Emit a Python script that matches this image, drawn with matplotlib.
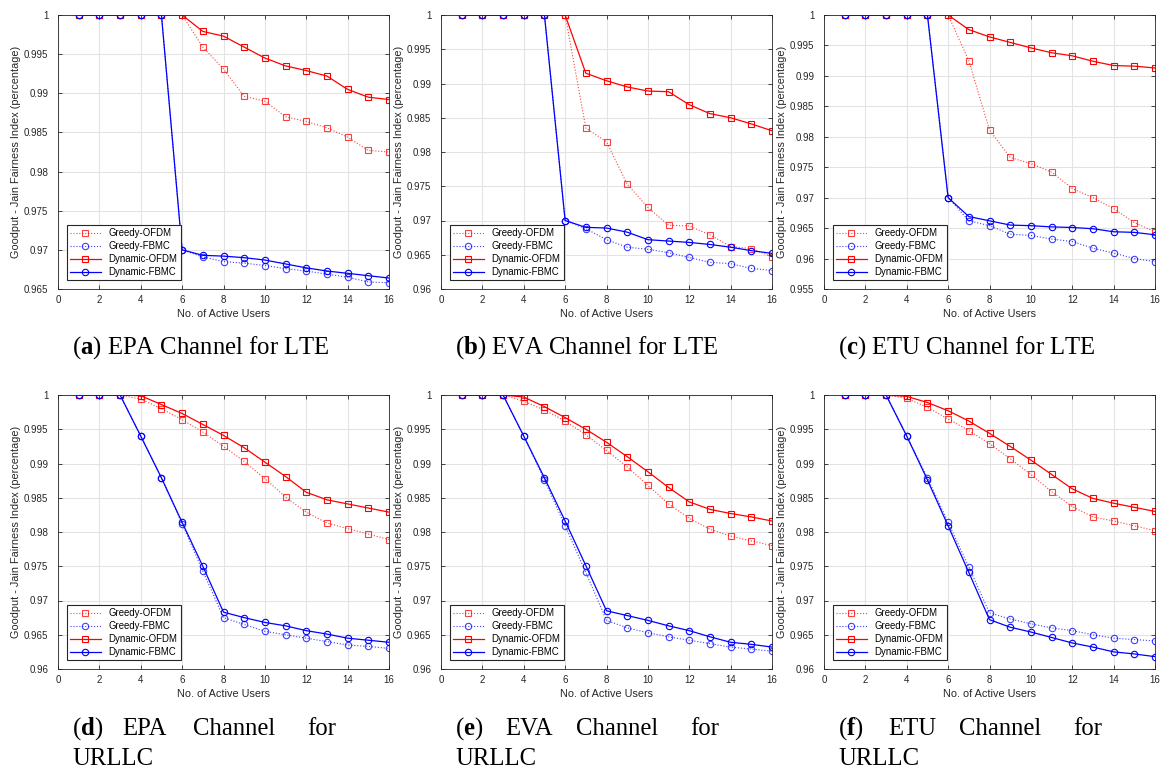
import matplotlib
matplotlib.use("Agg")
import matplotlib.pyplot as plt
from matplotlib.ticker import FormatStrFormatter, MultipleLocator

plt.rcParams['font.family'] = ['Liberation Sans', 'DejaVu Sans']
plt.rcParams['mathtext.fontset'] = 'custom'
plt.rcParams['mathtext.rm'] = 'Liberation Serif'
plt.rcParams['mathtext.bf'] = 'Liberation Serif:bold'

users = list(range(1, 17))
series_names = ["Greedy-OFDM", "Greedy-FBMC", "Dynamic-OFDM", "Dynamic-FBMC"]

# (a) EPA / LTE
epa_lte_greedy_ofdm = [1, 1, 1, 1, 1, 1, 0.9959, 0.9931, 0.9896, 0.9890, 0.9870, 0.9864, 0.9856, 0.9844, 0.9827, 0.9825]
epa_lte_greedy_fbmc = [1, 1, 1, 1, 1, 0.970, 0.9691, 0.9685, 0.9683, 0.9680, 0.9676, 0.9673, 0.9669, 0.9665, 0.9659, 0.9658]
epa_lte_dyn_ofdm = [1, 1, 1, 1, 1, 1, 0.9979, 0.9973, 0.9959, 0.9945, 0.9935, 0.9929, 0.9922, 0.9905, 0.9895, 0.9892]
epa_lte_dyn_fbmc = [1, 1, 1, 1, 1, 0.970, 0.9693, 0.9692, 0.9690, 0.9687, 0.9682, 0.9677, 0.9673, 0.9670, 0.9667, 0.9664]

# (b) EVA / LTE
eva_lte_greedy_ofdm = [1, 1, 1, 1, 1, 1, 0.9835, 0.9815, 0.9753, 0.9719, 0.9693, 0.9692, 0.9679, 0.9662, 0.9659, 0.9647]
eva_lte_greedy_fbmc = [1, 1, 1, 1, 1, 0.970, 0.9688, 0.9672, 0.9661, 0.9658, 0.9653, 0.9646, 0.9639, 0.9637, 0.9630, 0.9627]
eva_lte_dyn_ofdm = [1, 1, 1, 1, 1, 1, 0.9915, 0.9904, 0.9895, 0.9889, 0.9888, 0.9869, 0.9856, 0.9850, 0.9841, 0.9831]
eva_lte_dyn_fbmc = [1, 1, 1, 1, 1, 0.970, 0.9690, 0.9689, 0.9683, 0.9672, 0.9670, 0.9668, 0.9665, 0.9661, 0.9656, 0.9652]

# (c) ETU / LTE
etu_lte_greedy_ofdm = [1, 1, 1, 1, 1, 1, 0.9925, 0.9811, 0.9766, 0.9756, 0.9742, 0.9715, 0.9700, 0.9682, 0.9659, 0.9644]
etu_lte_greedy_fbmc = [1, 1, 1, 1, 1, 0.970, 0.9662, 0.9654, 0.9640, 0.9638, 0.9632, 0.9628, 0.9617, 0.9609, 0.9600, 0.9595]
etu_lte_dyn_ofdm = [1, 1, 1, 1, 1, 1, 0.9976, 0.9964, 0.9955, 0.9946, 0.9938, 0.9933, 0.9924, 0.9917, 0.9916, 0.9913]
etu_lte_dyn_fbmc = [1, 1, 1, 1, 1, 0.970, 0.9669, 0.9662, 0.9655, 0.9654, 0.9652, 0.9651, 0.9649, 0.9644, 0.9643, 0.9639]

# (d) EPA / URLLC
epa_urllc_greedy_ofdm = [1, 1, 1, 0.9994, 0.9980, 0.9964, 0.9946, 0.9925, 0.9903, 0.9878, 0.9851, 0.9829, 0.9813, 0.9805, 0.9797, 0.9789]
epa_urllc_greedy_fbmc = [1, 1, 1, 0.994, 0.9879, 0.9812, 0.9743, 0.9675, 0.9665, 0.9655, 0.9650, 0.9645, 0.9640, 0.9635, 0.9633, 0.9630]
epa_urllc_dyn_ofdm = [1, 1, 1, 0.9999, 0.9986, 0.9973, 0.9957, 0.9941, 0.9923, 0.9902, 0.9881, 0.9858, 0.9847, 0.9841, 0.9835, 0.9829]
epa_urllc_dyn_fbmc = [1, 1, 1, 0.994, 0.9879, 0.9814, 0.9750, 0.9683, 0.9675, 0.9668, 0.9663, 0.9656, 0.9651, 0.9645, 0.9642, 0.9639]

# (e) EVA / URLLC
eva_urllc_greedy_ofdm = [1, 1, 1, 0.9991, 0.9978, 0.9962, 0.9942, 0.9919, 0.9895, 0.9868, 0.9841, 0.9820, 0.9804, 0.9794, 0.9787, 0.9780]
eva_urllc_greedy_fbmc = [1, 1, 1, 0.994, 0.9876, 0.9809, 0.9741, 0.9671, 0.9660, 0.9653, 0.9647, 0.9642, 0.9637, 0.9632, 0.9629, 0.9626]
eva_urllc_dyn_ofdm = [1, 1, 1, 0.9997, 0.9983, 0.9967, 0.9950, 0.9931, 0.9910, 0.9888, 0.9865, 0.9844, 0.9833, 0.9827, 0.9822, 0.9816]
eva_urllc_dyn_fbmc = [1, 1, 1, 0.994, 0.9879, 0.9816, 0.9751, 0.9685, 0.9678, 0.9671, 0.9663, 0.9656, 0.9647, 0.9639, 0.9636, 0.9632]

# (f) ETU / URLLC
etu_urllc_greedy_ofdm = [1, 1, 1, 0.9995, 0.9982, 0.9965, 0.9948, 0.9929, 0.9907, 0.9884, 0.9859, 0.9837, 0.9822, 0.9816, 0.9809, 0.9802]
etu_urllc_greedy_fbmc = [1, 1, 1, 0.994, 0.9879, 0.9814, 0.9749, 0.9682, 0.9673, 0.9666, 0.9660, 0.9656, 0.9650, 0.9645, 0.9643, 0.9641]
etu_urllc_dyn_ofdm = [1, 1, 1, 0.9998, 0.9989, 0.9977, 0.9962, 0.9944, 0.9925, 0.9905, 0.9884, 0.9863, 0.9849, 0.9842, 0.9836, 0.9830]
etu_urllc_dyn_fbmc = [1, 1, 1, 0.994, 0.9876, 0.9809, 0.9741, 0.9672, 0.9661, 0.9654, 0.9646, 0.9638, 0.9632, 0.9625, 0.9622, 0.9618]

panels = [
    (epa_lte_greedy_ofdm, epa_lte_greedy_fbmc, epa_lte_dyn_ofdm, epa_lte_dyn_fbmc, 0.965),
    (eva_lte_greedy_ofdm, eva_lte_greedy_fbmc, eva_lte_dyn_ofdm, eva_lte_dyn_fbmc, 0.96),
    (etu_lte_greedy_ofdm, etu_lte_greedy_fbmc, etu_lte_dyn_ofdm, etu_lte_dyn_fbmc, 0.955),
    (epa_urllc_greedy_ofdm, epa_urllc_greedy_fbmc, epa_urllc_dyn_ofdm, epa_urllc_dyn_fbmc, 0.96),
    (eva_urllc_greedy_ofdm, eva_urllc_greedy_fbmc, eva_urllc_dyn_ofdm, eva_urllc_dyn_fbmc, 0.96),
    (etu_urllc_greedy_ofdm, etu_urllc_greedy_fbmc, etu_urllc_dyn_ofdm, etu_urllc_dyn_fbmc, 0.96),
]
top_letters = ["a", "b", "c"]
top_channels = ["EPA", "EVA", "ETU"]
bottom_letters = ["d", "e", "f"]

W, H = 1163, 771
fig = plt.figure(figsize=(W / 100, H / 100), dpi=100)

ax_lefts = [58, 441, 824]
ax_tops = [15, 395]
ax_w, ax_h = 331, 274

styles = [
    dict(color="r", ls=":", marker="s", ms=3.8, lw=0.8, alpha=0.75),
    dict(color="b", ls=":", marker="o", ms=4.6, lw=0.8, alpha=0.75),
    dict(color="r", ls="-", marker="s", ms=3.8, lw=0.9),
    dict(color="b", ls="-", marker="o", ms=4.6, lw=0.9),
]

for i, (g_ofdm, g_fbmc, d_ofdm, d_fbmc, ymin) in enumerate(panels):
    row, col = divmod(i, 3)
    left = ax_lefts[col]
    top = ax_tops[row]
    ax = fig.add_axes([left / W, 1 - (top + ax_h) / H, ax_w / W, ax_h / H])
    for vals, name, st in zip([g_ofdm, g_fbmc, d_ofdm, d_fbmc], series_names, styles):
        ax.plot(users, vals, label=name, mfc="none", mew=0.8, **st)
    ax.set_xlim(0, 16)
    ax.set_ylim(ymin, 1)
    ax.xaxis.set_major_locator(MultipleLocator(2))
    ax.yaxis.set_major_locator(MultipleLocator(0.005))
    ax.yaxis.set_major_formatter(FormatStrFormatter("%g"))
    ax.grid(True, color="#e3e3e3", lw=0.8)
    ax.set_axisbelow(True)
    ax.tick_params(direction="in", top=True, right=True, length=3, width=0.6,
                   labelsize=7, colors="#262626")
    ax.tick_params(axis="y", pad=7)
    ax.tick_params(axis="x", pad=4)
    for sp in ax.spines.values():
        sp.set_color("#262626")
        sp.set_linewidth(0.6)
    ax.set_xlabel("No. of Active Users", fontsize=7.8, color="#262626", labelpad=3)
    ax.set_ylabel("Goodput - Jain Fairness Index (percentage)", fontsize=7.8,
                  color="#262626", labelpad=2)
    leg = ax.legend(loc="lower left", fontsize=6.9, fancybox=False, framealpha=1,
                    edgecolor="#262626", borderaxespad=0.9, handlelength=3.2,
                    labelspacing=0.3, borderpad=0.35)
    leg.get_frame().set_linewidth(0.8)

cap_x = [72, 455, 838]
for col in range(3):
    fig.text(cap_x[col] / W, 1 - 354 / H,
             r"($\mathbf{%s}$) %s Channel for LTE" % (top_letters[col], top_channels[col]),
             fontsize=17.8, family="Liberation Serif", va="baseline")
    # justified two-line caption
    x0 = cap_x[col]
    words = [(r"($\mathbf{%s}$)" % bottom_letters[col], 0), (top_channels[col], 50),
             ("Channel", 121), ("for", 235)]
    for w, dx in words:
        fig.text((x0 + dx) / W, 1 - 735 / H, w, fontsize=17.8,
                 family="Liberation Serif", va="baseline")
    fig.text(x0 / W, 1 - 765 / H, "URLLC", fontsize=17.8,
             family="Liberation Serif", va="baseline")

fig.savefig("out.png", dpi=100)
